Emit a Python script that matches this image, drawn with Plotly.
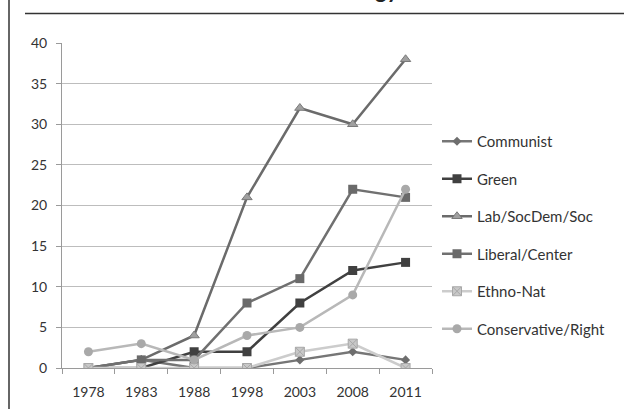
import plotly.graph_objects as go

years = ["1978", "1983", "1988", "1998", "2003", "2008", "2011"]
communist = [0, 1, 0, 0, 1, 2, 1]
green = [0, 0, 2, 2, 8, 12, 13]
lab = [0, 1, 4, 21, 32, 30, 38]
liberal = [0, 1, 1, 8, 11, 22, 21]
ethno = [0, 0, 0, 0, 2, 3, 0]
conservative = [2, 3, 1, 4, 5, 9, 22]

series = [
    ("Communist", communist, "#767676", dict(symbol="diamond", size=7, color="#6e6e6e")),
    ("Green", green, "#404040", dict(symbol="square", size=9, color="#404040")),
    ("Lab/SocDem/Soc", lab, "#6b6b6b", dict(symbol="triangle-up", size=9, color="#a0a0a0", line=dict(color="#7a7a7a", width=1))),
    ("Liberal/Center", liberal, "#707070", dict(symbol="square", size=9, color="#6a6a6a")),
    ("Ethno-Nat", ethno, "#cccccc", dict(symbol="square-x", size=9, color="#c8c8c8", line=dict(color="#a8a8a8", width=1))),
    ("Conservative/Right", conservative, "#b8b8b8", dict(symbol="circle", size=9, color="#a9a9a9")),
]

fig = go.Figure()
for name, vals, col, mk in series:
    fig.add_trace(go.Scatter(
        x=years, y=vals, name=name, mode="lines+markers",
        line=dict(color=col, width=2.5), marker=mk,
        legendgroup=name,
    ))

fig.update_layout(
    width=624, height=409,
    margin=dict(l=62, r=192, t=43, b=41, autoexpand=False),
    paper_bgcolor="white", plot_bgcolor="white",
    font=dict(family="Lato, 'Open Sans', sans-serif", size=14, color="#333333"),
    showlegend=True,
    legend=dict(x=(437 - 62) / 370, y=(368 - 125) / 325, xanchor="left", yanchor="top",
                font=dict(size=15, color="#333333"), tracegroupgap=15,
                itemwidth=30, bgcolor="rgba(0,0,0,0)"),
    xaxis=dict(type="category", range=[-0.5, 6.5], showgrid=False, automargin=False,
               showline=True, linecolor="#9a9a9a", linewidth=1,
               ticks="outside", ticklen=5, tickcolor="#9a9a9a", tickson="boundaries",
               ticklabelstandoff=11,
               tickfont=dict(size=14, color="#333333"), fixedrange=True),
    yaxis=dict(range=[0, 40], dtick=5, showgrid=True, gridcolor="#bdbdbd", gridwidth=1,
               showline=True, linecolor="#9a9a9a", linewidth=1, automargin=False,
               ticks="outside", ticklen=5, tickcolor="#9a9a9a", ticklabelstandoff=6,
               zeroline=False, tickfont=dict(size=14, color="#333333"), fixedrange=True),
    shapes=[
        dict(type="line", xref="paper", yref="paper",
             x0=(9 - 62) / 370, x1=(9 - 62) / 370,
             y0=(368 - 0) / 325, y1=(368 - 412) / 325,
             line=dict(color="#333333", width=1.5)),
        dict(type="line", xref="paper", yref="paper",
             x0=(25 - 62) / 370, x1=(626 - 62) / 370,
             y0=(368 - 13.5) / 325, y1=(368 - 13.5) / 325,
             line=dict(color="#333333", width=1.5)),
    ],
    annotations=[
        dict(text="<b>Ideology</b>", xref="paper", yref="paper",
             x=(401 - 62) / 370, y=(368 - 5) / 325,
             xanchor="right", yanchor="bottom", showarrow=False,
             font=dict(size=22, color="#222222")),
    ],
)

fig.write_html("out.html", config={"displayModeBar": False},
               post_script="document.body.style.margin='0';")
